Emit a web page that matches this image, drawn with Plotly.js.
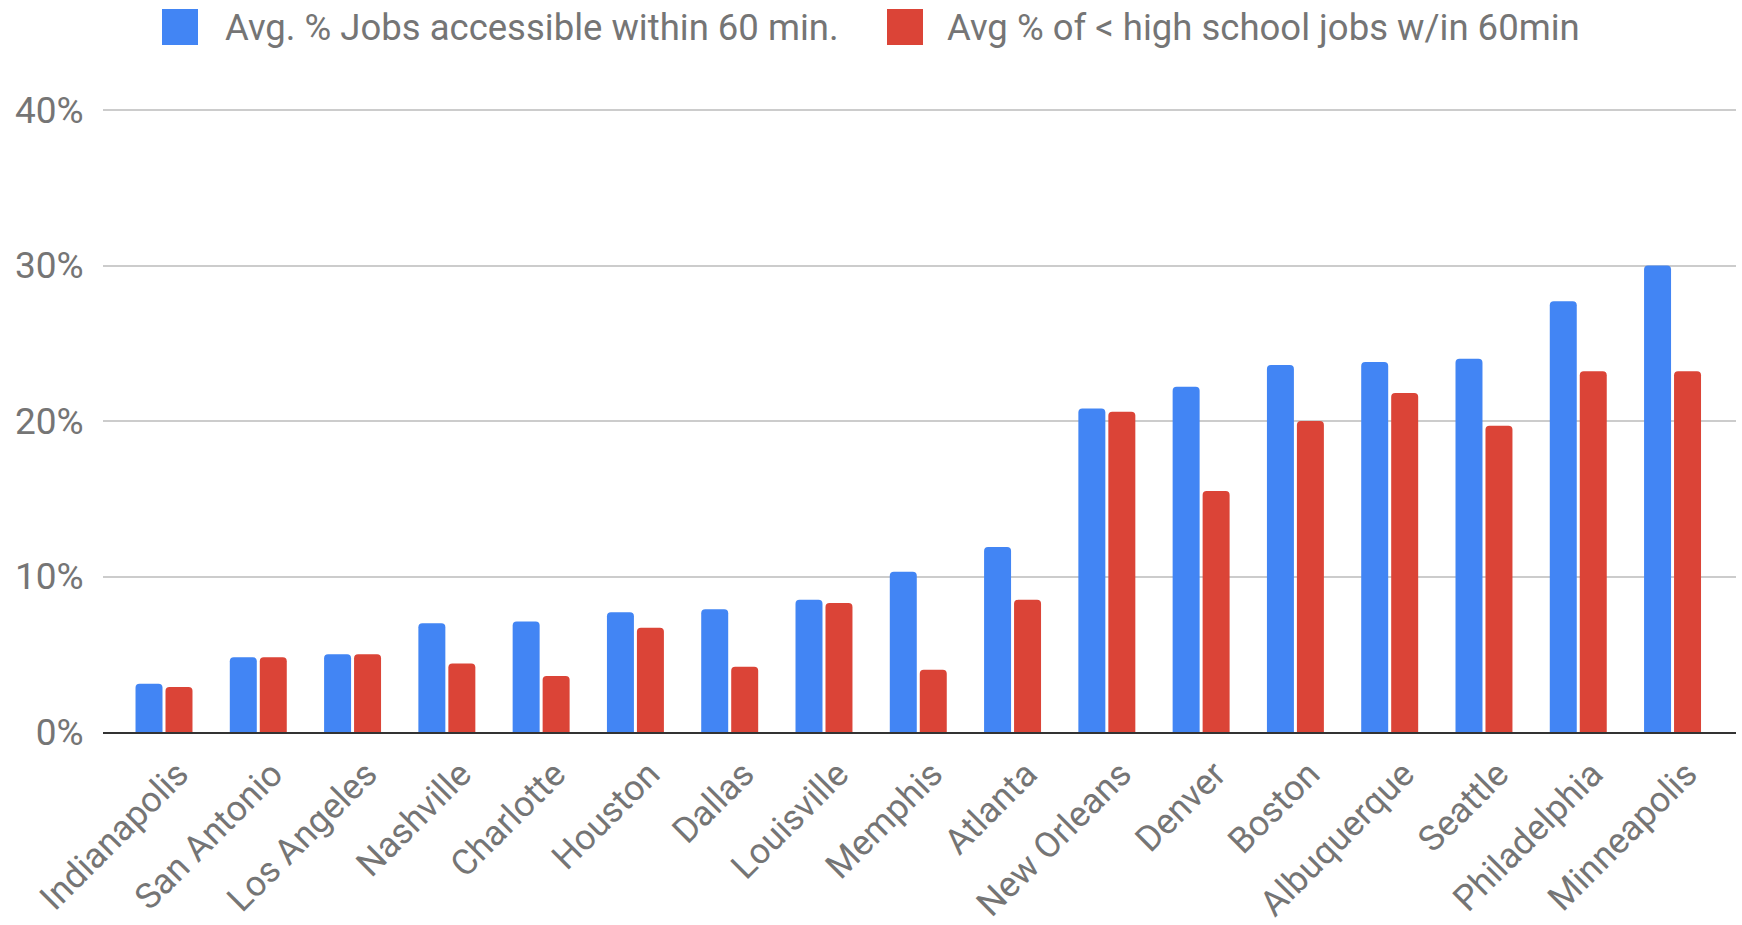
<!DOCTYPE html>
<html>
<head>
<meta charset="utf-8">
<script src="https://cdn.plot.ly/plotly-3.0.1.min.js"></script>
<style>
  html, body { margin: 0; padding: 0; background: #fff; }
  #chart { width: 1742px; height: 925px; }
</style>
</head>
<body>
<div id="chart"></div>
<script>
// Cities, ordered by share of jobs reachable within 60 minutes
const cities = ['Indianapolis', 'San Antonio', 'Los Angeles', 'Nashville', 'Charlotte',
  'Houston', 'Dallas', 'Louisville', 'Memphis', 'Atlanta', 'New Orleans', 'Denver',
  'Boston', 'Albuquerque', 'Seattle', 'Philadelphia', 'Minneapolis'];

// Average % of all jobs accessible within 60 min
const allJobs = [3.1, 4.8, 5.0, 7.0, 7.1, 7.7, 7.9, 8.5, 10.3, 11.9,
  20.8, 22.2, 23.6, 23.8, 24.0, 27.7, 30.0];

// Average % of jobs requiring less than high school, within 60 min
const lowEdJobs = [2.9, 4.8, 5.0, 4.4, 3.6, 6.7, 4.2, 8.3, 4.0, 8.5,
  20.6, 15.5, 20.0, 21.8, 19.7, 23.2, 23.2];

const seriesNames = ['Avg. % Jobs accessible within 60 min.', 'Avg % of < high school jobs w/in 60min'];
const seriesColors = ['#4285F4', '#DB4437'];

const yTicks = [0, 10, 20, 30, 40];

const W = 1742, H = 925;
const margin = { l: 103, r: 6, t: 106, b: 192.5 };
const plotW = W - margin.l - margin.r;
const plotH = H - margin.t - margin.b;
// leave a few pixels of headroom so the 40% gridline is drawn inside the plot
const yTop = 40 * plotH / (plotH - 4);
const px2x = p => (p - margin.l) / plotW;
const px2y = p => (H - margin.b - p) / plotH;

const FONT = 'Roboto, "Open Sans", sans-serif';
const GREY = '#757575';

const traces = [allJobs, lowEdJobs].map((vals, i) => ({
  type: 'bar',
  name: seriesNames[i],
  x: cities,
  y: vals,
  marker: { color: seriesColors[i], cornerradius: 4 },
  showlegend: false,
  hoverinfo: 'x+y+name'
}));

// Legend: colour swatches and labels placed above the plot
const swatchLeft = [162, 887];
const labelLeft = [223, 945];
const shapes = swatchLeft.map((p, i) => ({
  type: 'rect', xref: 'paper', yref: 'paper',
  x0: px2x(p), x1: px2x(p + 36), y0: px2y(45), y1: px2y(9),
  fillcolor: seriesColors[i], line: { width: 0 }
}));
const annotations = labelLeft.map((p, i) => ({
  xref: 'paper', yref: 'paper', x: px2x(p), y: px2y(27),
  xanchor: 'left', yanchor: 'middle', showarrow: false,
  text: seriesNames[i],
  font: { family: FONT, size: 36.5, color: GREY }
}));

const layout = {
  width: W, height: H,
  margin: margin,
  paper_bgcolor: '#fff', plot_bgcolor: '#fff',
  font: { family: FONT, color: GREY },
  barmode: 'group',
  bargap: 0.364,
  bargroupgap: 0.1,
  xaxis: {
    type: 'category',
    range: [-0.647, 16.673],
    tickangle: -45,
    tickfont: { family: FONT, size: 35.5, color: GREY },
    ticklabelshift: 14,
    ticklabelstandoff: 5,
    showgrid: false,
    showline: true, linecolor: '#333', linewidth: 2,
    ticks: '', automargin: false
  },
  yaxis: {
    range: [0, yTop],
    tickvals: yTicks,
    ticktext: yTicks.map(v => v + '%'),
    tickfont: { family: FONT, size: 37, color: GREY },
    showgrid: true, gridcolor: '#cccccc', gridwidth: 2,
    zeroline: false, showline: false,
    ticks: 'outside', ticklen: 11, tickcolor: 'rgba(0,0,0,0)',
    automargin: false
  },
  shapes: shapes,
  annotations: annotations
};

Plotly.newPlot('chart', traces, layout, { displayModeBar: false, staticPlot: true });
</script>
</body>
</html>
